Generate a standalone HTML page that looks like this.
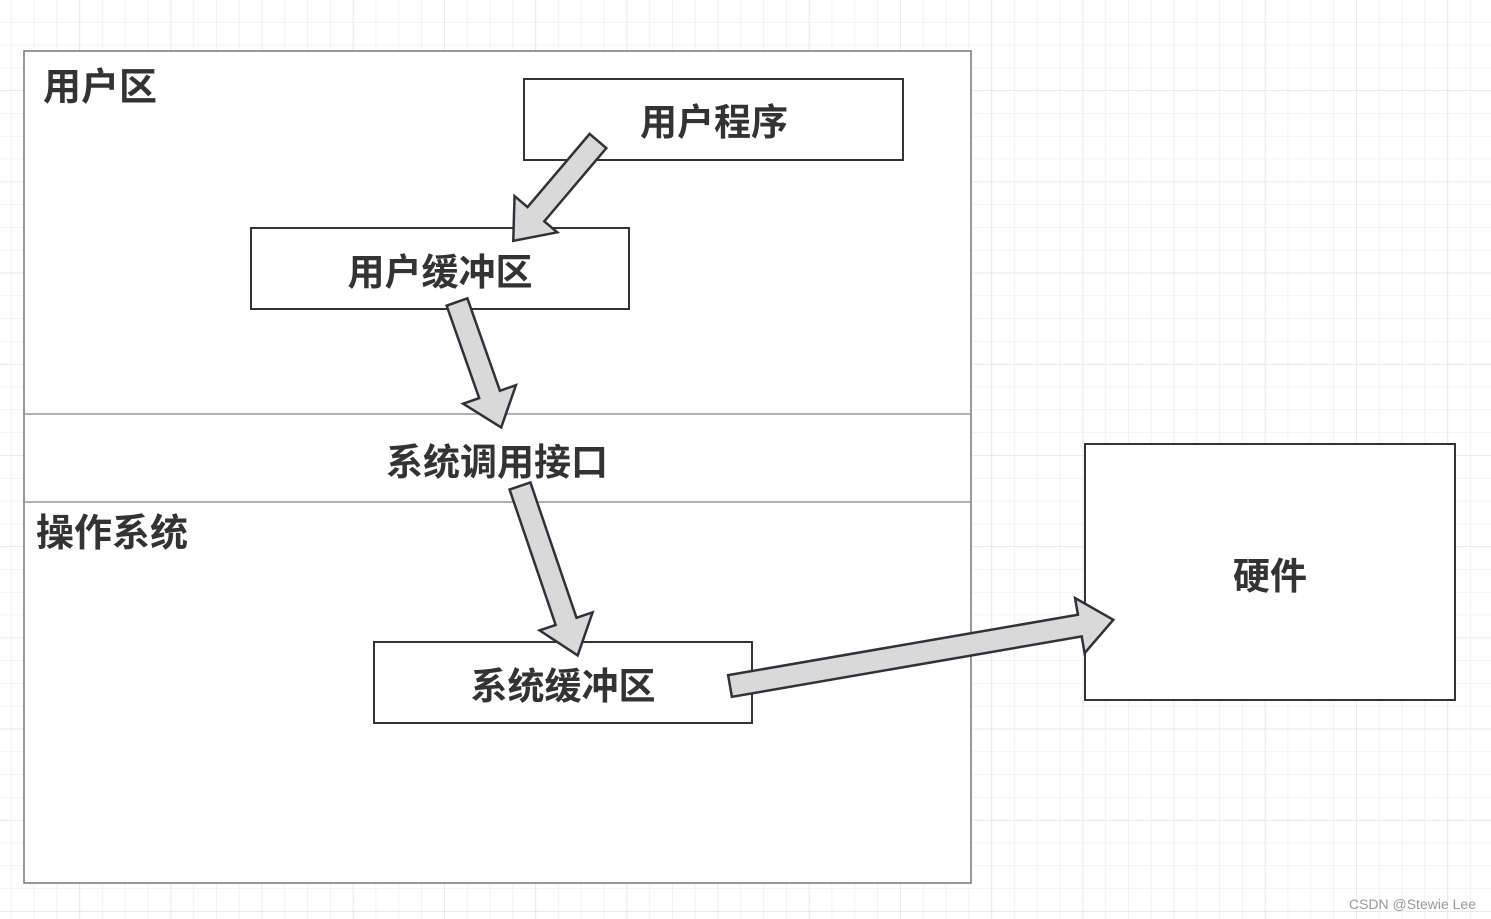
<!DOCTYPE html>
<html><head><meta charset="utf-8"><style>
html,body{margin:0;padding:0;width:1491px;height:919px;overflow:hidden;background:#fff;}
svg text{font-family:"Liberation Sans","Noto Sans CJK SC",sans-serif;font-weight:bold;fill:#333;}
</style></head><body>
<svg width="1491" height="919" viewBox="0 0 1491 919" xmlns="http://www.w3.org/2000/svg">
<defs>
<pattern id="g" x="-12" y="-1" width="22.8" height="22.8" patternUnits="userSpaceOnUse">
<path d="M0 0H22.8M0 0V22.8" stroke="#efefef" stroke-width="1.5" fill="none"/>
</pattern>
<pattern id="G" x="-12" y="-1" width="91.2" height="91.2" patternUnits="userSpaceOnUse">
<path d="M0 0H91.2M0 0V91.2" stroke="#e6e6e6" stroke-width="1.5" fill="none"/>
</pattern>
</defs>
<rect width="1491" height="919" fill="url(#g)"/>
<rect width="1491" height="919" fill="url(#G)"/>
<rect x="24" y="51" width="947" height="832" fill="#fff" stroke="#777" stroke-width="1.5"/>
<line x1="24" y1="414" x2="971" y2="414" stroke="#999" stroke-width="1.5"/>
<line x1="24" y1="502" x2="971" y2="502" stroke="#999" stroke-width="1.5"/>
<text x="43" y="100" font-size="38">用户区</text>
<text x="36" y="546" font-size="38">操作系统</text>
<text x="497" y="475" font-size="37" text-anchor="middle">系统调用接口</text>
<rect x="524" y="79" width="379" height="81" fill="#fff" stroke="#333" stroke-width="2"/>
<text x="714" y="135" font-size="37" text-anchor="middle">用户程序</text>
<rect x="251" y="228" width="378" height="81" fill="#fff" stroke="#333" stroke-width="2"/>
<text x="440" y="285" font-size="37" text-anchor="middle">用户缓冲区</text>
<rect x="374" y="642" width="378" height="81" fill="#fff" stroke="#333" stroke-width="2"/>
<text x="563" y="699" font-size="37" text-anchor="middle">系统缓冲区</text>
<rect x="1085" y="444" width="370" height="256" fill="#fff" stroke="#333" stroke-width="2"/>
<text x="1270" y="589" font-size="37" text-anchor="middle">硬件</text>
<g fill="#d9d9d9" stroke="#2f3337" stroke-width="2.5" stroke-linejoin="miter">
<polygon transform="translate(598,141) rotate(130.3)" points="0,-11 96,-11 96,-28 131,0 96,28 96,11 0,11"/>
<polygon transform="translate(457,302) rotate(70.6)" points="0,-11 98,-11 98,-28 133,0 98,28 98,11 0,11"/>
<polygon transform="translate(520,486) rotate(71.2)" points="0,-11 143,-11 143,-28 179,0 143,28 143,11 0,11"/>
<polygon transform="translate(730,686) rotate(-9.8)" points="0,-11 355,-11 355,-28 389,0 355,28 355,11 0,11"/>
</g>
<text x="1476" y="909" font-size="14" text-anchor="end" style="font-weight:normal;fill:#999">CSDN @Stewie Lee</text>
</svg>
</body></html>
